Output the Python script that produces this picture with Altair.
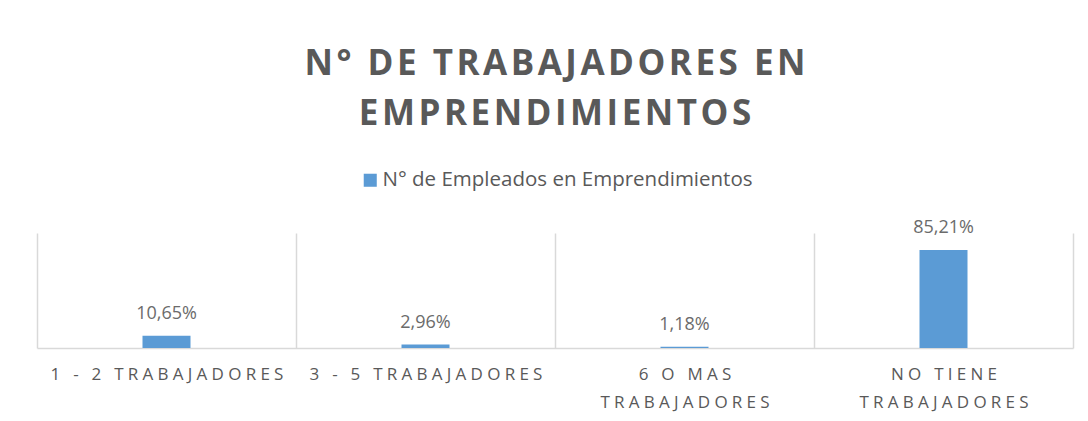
import altair as alt
import pandas as pd

categories = ["1 - 2 TRABAJADORES", "3 - 5 TRABAJADORES", "6 O MAS TRABAJADORES", "NO TIENE TRABAJADORES"]
values = [10.65, 2.96, 1.18, 85.21]
series_name = "N° de Empleados en Emprendimientos"
title_lines = ["N° DE TRABAJADORES EN", "EMPRENDIMIENTOS"]

df = pd.DataFrame({"cat": categories, "v": values, "serie": [series_name] * len(categories)})

FONT = "Open Sans"
GRAY = "#595959"
LINE = "#d9d9d9"
BLUE = "#5B9BD5"

# letter spacing emulation (Vega has no letterSpacing): spaces between glyphs
AX_SP = "\u2005"
TI_SP = "\u200a"


def spaced(expr):
    return f"join(split({expr}, ''), '{AX_SP}')"


last_sp = "lastindexof(datum.label, ' ')"
label_expr = (
    f"length(datum.label) > 18 ? "
    f"[{spaced(f'substring(datum.label, 0, {last_sp})')}, {spaced(f'substring(datum.label, {last_sp} + 1)')}] "
    f": {spaced('datum.label')}"
)

x_enc = alt.X(
    "cat:N",
    sort=categories,
    scale=alt.Scale(paddingInner=0, paddingOuter=0),
    axis=alt.Axis(
        title=None,
        labelAngle=0,
        tickBand="extent",
        grid=True,
        gridColor=LINE,
        gridWidth=1.5,
        domainColor=LINE,
        domainWidth=1.5,
        ticks=False,
        labelFont=FONT,
        labelFontSize=17,
        labelColor=GRAY,
        labelPadding=18,
        labelLineHeight=28,
        labelLimit=400,
        labelExpr=label_expr,
    ),
)
y_enc = alt.Y("v:Q", scale=alt.Scale(domain=[0, 100]), axis=None)

bars = alt.Chart(df).mark_bar(size=48).encode(
    x=x_enc,
    y=y_enc,
    color=alt.Color(
        "serie:N",
        scale=alt.Scale(range=[BLUE]),
        legend=alt.Legend(
            title=None,
            orient="none",
            legendX=323,
            legendY=-63,
            symbolType="square",
            symbolSize=170,
            symbolStrokeWidth=0,
            symbolOpacity=1,
            labelFont=FONT,
            labelFontSize=20.5,
            labelColor=GRAY,
            labelOffset=2,
            labelLimit=600,
        ),
    ),
)

labels = alt.Chart(df).transform_calculate(
    lab="replace(format(datum.v, '.2f'), '.', ',') + '%'"
).mark_text(
    baseline="alphabetic", dy=-17, font=FONT, fontSize=18, color="#6b6b6b"
).encode(x=alt.X("cat:N", sort=categories), y=y_enc, text="lab:N")

chart = (
    alt.layer(bars, labels)
    .properties(
        width=1036,
        height=115,
        autosize=alt.AutoSizeParams(type="none"),
        padding={"left": 29, "top": 225, "right": 7, "bottom": 65},
        title=alt.TitleParams(
            [TI_SP.join(line) for line in title_lines],
            font=FONT,
            fontSize=35,
            fontWeight="bold",
            color=GRAY,
            lineHeight=50,
            anchor="middle",
            offset=38,
        ),
    )
    .configure_view(stroke=None)
)

chart.save("out.html", embed_options={"renderer": "svg", "actions": False})
